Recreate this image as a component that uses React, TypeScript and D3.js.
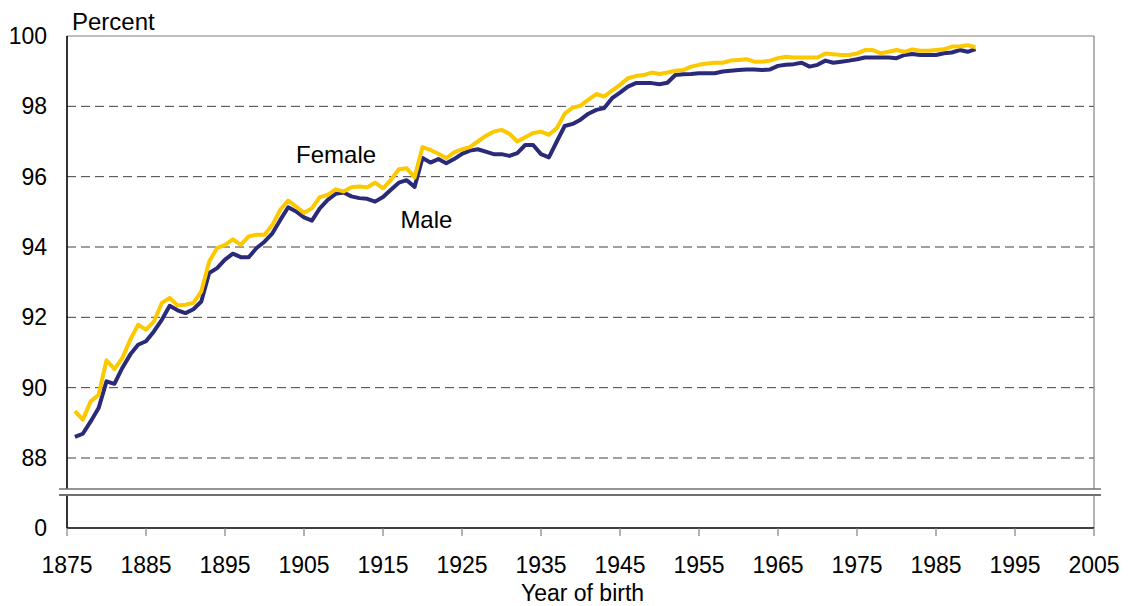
import * as d3 from 'd3';
import React, { useEffect, useRef } from 'react';

// Share of birth cohort surviving (percent), years of birth 1876 to 1990
const firstYear = 1876;

const maleValues = [
    88.60, 88.69, 89.04, 89.42, 90.18, 90.11, 90.56, 90.94, 91.22, 91.32,
    91.60, 91.93, 92.33, 92.20, 92.12, 92.23, 92.45, 93.26, 93.40, 93.64,
    93.81, 93.71, 93.71, 93.97, 94.15, 94.39, 94.77, 95.13, 95.01, 94.84,
    94.75, 95.10, 95.34, 95.51, 95.55, 95.44, 95.39, 95.37, 95.29, 95.42,
    95.63, 95.83, 95.90, 95.71, 96.53, 96.40, 96.50, 96.38, 96.50, 96.65,
    96.74, 96.78, 96.71, 96.64, 96.64, 96.59, 96.67, 96.90, 96.90, 96.64,
    96.55, 97.00, 97.44, 97.50, 97.62, 97.79, 97.90, 97.95, 98.23, 98.39,
    98.56, 98.66, 98.66, 98.66, 98.63, 98.67, 98.89, 98.91, 98.92, 98.94,
    98.94, 98.94, 98.99, 99.01, 99.03, 99.05, 99.05, 99.03, 99.05, 99.15,
    99.18, 99.20, 99.24, 99.13, 99.18, 99.30, 99.24, 99.27, 99.30, 99.34,
    99.39, 99.39, 99.39, 99.39, 99.37, 99.46, 99.49, 99.46, 99.46, 99.46,
    99.51, 99.53, 99.60, 99.55, 99.63,
];

const femaleValues = [
    89.33, 89.09, 89.61, 89.80, 90.78, 90.53, 90.84, 91.36, 91.79, 91.65,
    91.88, 92.41, 92.55, 92.34, 92.36, 92.41, 92.74, 93.59, 93.97, 94.06,
    94.22, 94.06, 94.30, 94.35, 94.35, 94.63, 95.06, 95.32, 95.15, 94.97,
    95.10, 95.42, 95.48, 95.64, 95.58, 95.70, 95.72, 95.70, 95.83, 95.67,
    95.91, 96.21, 96.24, 95.98, 96.84, 96.76, 96.65, 96.53, 96.69, 96.78,
    96.84, 97.00, 97.16, 97.28, 97.33, 97.22, 97.00, 97.12, 97.24, 97.28,
    97.19, 97.38, 97.79, 97.96, 98.02, 98.19, 98.35, 98.28, 98.45, 98.61,
    98.80, 98.86, 98.89, 98.96, 98.92, 98.96, 99.01, 99.03, 99.13, 99.18,
    99.22, 99.24, 99.24, 99.30, 99.32, 99.34, 99.27, 99.27, 99.30, 99.37,
    99.41, 99.39, 99.39, 99.39, 99.39, 99.50, 99.48, 99.46, 99.46, 99.50,
    99.60, 99.60, 99.51, 99.55, 99.60, 99.55, 99.62, 99.58, 99.58, 99.60,
    99.62, 99.70, 99.70, 99.74, 99.68,
];

const xTicks = [1875, 1885, 1895, 1905, 1915, 1925, 1935, 1945, 1955, 1965, 1975, 1985, 1995, 2005];
const yTicks = [88, 90, 92, 94, 96, 98, 100];

const seriesLabels = [
    { name: 'Female', year: 1904.0, value: 96.39 },
    { name: 'Male', year: 1917.2, value: 94.54 },
];

function App() {
    const chartRef = useRef<SVGSVGElement>(null);

    useEffect(() => {
        const width = 1128;
        const height = 606;
        const font = 'Arial, "Liberation Sans", sans-serif';

        // plot geometry
        const left = 67;
        const right = 1094;
        const top = 36;
        const breakTop = 489;
        const breakBottom = 495;
        const bottom = 528;

        const svg = d3.select(chartRef.current);
        svg.selectAll('*').remove();
        svg.attr('width', width).attr('height', height)
            .style('background-color', 'white');

        const x = d3.scaleLinear().domain([1875, 2005]).range([left, right]);
        const y = d3.scaleLinear().domain([88, 100]).range([458, top]);

        // dashed gridlines
        svg.append('g')
            .selectAll('line')
            .data(yTicks.filter((d) => d < 100))
            .join('line')
            .attr('x1', left)
            .attr('x2', right)
            .attr('y1', (d) => y(d))
            .attr('y2', (d) => y(d))
            .attr('stroke', '#404040')
            .attr('stroke-width', 1)
            .attr('stroke-dasharray', '9,5');

        // frame: top and right in grey, left and bottom in black
        svg.append('line')
            .attr('x1', left).attr('x2', right).attr('y1', top).attr('y2', top)
            .attr('stroke', '#808080').attr('stroke-width', 1.2);
        svg.append('line')
            .attr('x1', right).attr('x2', right).attr('y1', top).attr('y2', breakTop)
            .attr('stroke', '#808080').attr('stroke-width', 1.2);
        svg.append('line')
            .attr('x1', right).attr('x2', right).attr('y1', breakBottom).attr('y2', bottom)
            .attr('stroke', '#808080').attr('stroke-width', 1.2);
        svg.append('line')
            .attr('x1', left).attr('x2', left).attr('y1', top).attr('y2', breakTop)
            .attr('stroke', '#000').attr('stroke-width', 1.6);
        svg.append('line')
            .attr('x1', left).attr('x2', left).attr('y1', breakBottom).attr('y2', bottom)
            .attr('stroke', '#000').attr('stroke-width', 1.6);
        svg.append('line')
            .attr('x1', left).attr('x2', right).attr('y1', bottom).attr('y2', bottom)
            .attr('stroke', '#000').attr('stroke-width', 1.4);

        // axis break marks
        svg.append('line')
            .attr('x1', 59).attr('x2', 1101).attr('y1', breakTop).attr('y2', breakTop)
            .attr('stroke', '#707070').attr('stroke-width', 1.6);
        svg.append('line')
            .attr('x1', 59).attr('x2', 1101).attr('y1', breakBottom).attr('y2', breakBottom)
            .attr('stroke', '#707070').attr('stroke-width', 2);

        // x ticks and labels
        const xg = svg.append('g');
        xg.selectAll('line')
            .data(xTicks)
            .join('line')
            .attr('x1', (d) => x(d))
            .attr('x2', (d) => x(d))
            .attr('y1', bottom)
            .attr('y2', bottom + 8)
            .attr('stroke', '#808080')
            .attr('stroke-width', 1.2);
        xg.selectAll('text')
            .data(xTicks)
            .join('text')
            .attr('x', (d) => x(d))
            .attr('y', 573)
            .attr('text-anchor', 'middle')
            .style('font-family', font)
            .style('font-size', '23px')
            .text((d) => d);

        // y labels
        svg.append('g')
            .selectAll('text')
            .data(yTicks)
            .join('text')
            .attr('x', 47)
            .attr('y', (d) => y(d) + 8)
            .attr('text-anchor', 'end')
            .style('font-family', font)
            .style('font-size', '23px')
            .text((d) => d);
        svg.append('text')
            .attr('x', 47)
            .attr('y', bottom + 8)
            .attr('text-anchor', 'end')
            .style('font-family', font)
            .style('font-size', '23px')
            .text('0');

        // axis titles
        svg.append('text')
            .attr('x', 72)
            .attr('y', 30)
            .style('font-family', font)
            .style('font-size', '24px')
            .text('Percent');
        svg.append('text')
            .attr('x', (left + right) / 2 + 2)
            .attr('y', 601)
            .attr('text-anchor', 'middle')
            .style('font-family', font)
            .style('font-size', '23px')
            .text('Year of birth');

        // series lines
        const line = d3.line<number>()
            .x((d, i) => x(firstYear + i))
            .y((d) => y(d));

        svg.append('path')
            .datum(maleValues)
            .attr('fill', 'none')
            .attr('stroke', '#2a2a78')
            .attr('stroke-width', 4)
            .attr('stroke-linejoin', 'round')
            .attr('d', line);

        svg.append('path')
            .datum(femaleValues)
            .attr('fill', 'none')
            .attr('stroke', '#fcc800')
            .attr('stroke-width', 4)
            .attr('stroke-linejoin', 'round')
            .attr('d', line);

        // series labels
        svg.append('g')
            .selectAll('text')
            .data(seriesLabels)
            .join('text')
            .attr('x', (d) => x(d.year))
            .attr('y', (d) => y(d.value))
            .style('font-family', font)
            .style('font-size', '24px')
            .text((d) => d.name);
    }, []);

    return (
        <div style={{ position: 'absolute', left: 0, top: 0 }}>
            <svg ref={chartRef} />
        </div>
    );
}

export default App;
